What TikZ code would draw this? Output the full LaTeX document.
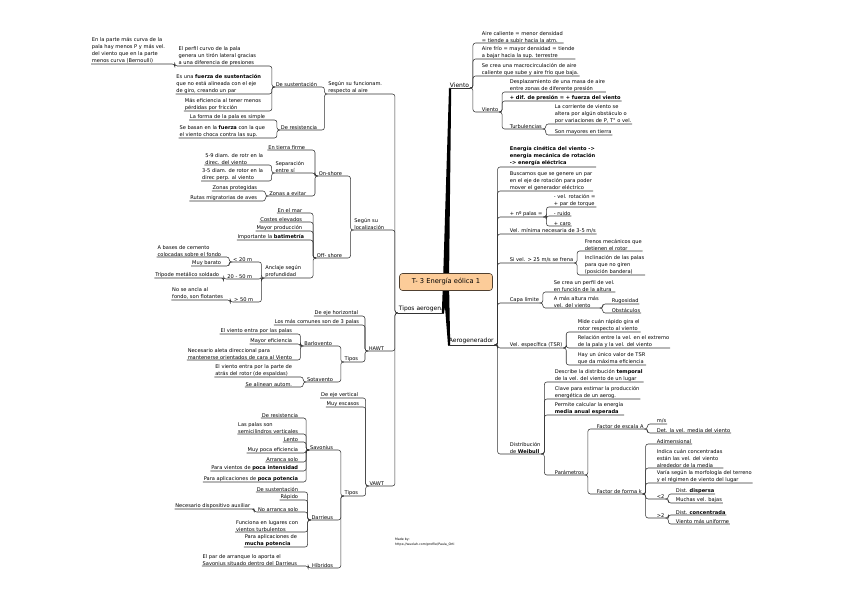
\documentclass[tikz,border=0pt]{standalone}
\usepackage{fontspec}
\setmainfont{DejaVu Sans}
\usetikzlibrary{positioning,backgrounds}
\definecolor{rootfill}{RGB}{252,204,153}
\definecolor{rootline}{RGB}{80,64,48}
\newcommand\mapfont{\fontsize{5.1}{7}\selectfont}
\newcommand\branchfont{\fontsize{6}{8}\selectfont}

\begin{document}
\begin{tikzpicture}[
  x=1pt, y=-1pt,
  leaf/.style={inner sep=0.7pt, align=left, font=\mapfont},
  lleaf/.style={leaf, anchor=south east},
  rleaf/.style={leaf, anchor=south west},
  mainbr/.style={inner sep=0.7pt, font=\branchfont},
  root/.style={draw=rootline, fill=rootfill, rounded corners=3pt, line width=0.6pt,
               minimum width=93pt, minimum height=17pt, font=\fontsize{6.7}{9}\selectfont},
  conn/.style={draw=black!80, line width=0.55pt, rounded corners=2.5pt},
  footer/.style={inner sep=0pt, align=left, anchor=north west, font=\fontsize{3.2}{4.6}\selectfont},
]
\useasboundingbox (0,0) rectangle (848,599);

% ---- central topic and main branches ----
\node[root] (root) at (446,282) {T- 3 Energía eólica 1};
\node[mainbr, anchor=south west] (vien) at (449,88) {Viento};
\node[mainbr, anchor=south west] (aero) at (448,345) {Aerogenerador};
\node[mainbr, anchor=south east] (tipo) at (444,313) {Tipos aerogen.};

% ---- tipos: funcionamiento ----
\node[lleaf] (func) at (383,94) {Según su funcionam.\\respecto al aire};
\node[lleaf] (dsus) at (318,87) {De sustentación};
\node[lleaf] (perf) at (257,66) {El perfil curvo de la pala\\genera un tirón lateral gracias\\a una diferencia de presiones};
\node[lleaf] (bern) at (166,64) {En la parte más curva de la\\pala hay menos P y más vel.\\del viento que en la parte\\menos curva (Bernoulli)};
\node[lleaf] (fsus) at (262,94) {Es una \textbf{fuerza de sustentación}\\que no está alineada con el eje\\de giro, creando un par};
\node[lleaf] (mefi) at (262,111) {Más eficiencia al tener menos\\pérdidas por fricción};
\node[lleaf] (dres) at (318,130) {De resistencia};
\node[lleaf] (fsim) at (266,120) {La forma de la pala es simple};
\node[lleaf] (fcho) at (266,138) {Se basan en la \textbf{fuerza} con la que\\el viento choca contra las sup.};

% ---- tipos: localizacion ----
\node[lleaf] (loca) at (385,230) {Según su\\localización};
\node[lleaf] (onsh) at (343,176) {On-shore};
\node[lleaf] (tier) at (306,150) {En tierra firme};
\node[lleaf] (sepa) at (305,173) {Separación\\entre sí};
\node[lleaf] (d59) at (264,165) {5-9 diam. de rotr en la\\direc. del viento};
\node[lleaf] (d35) at (264,181) {3-5 diam. de rotor en la\\direc perp. al viento};
\node[lleaf] (zevi) at (307,196) {Zonas a evitar};
\node[lleaf] (zpro) at (258,191) {Zonas protegidas};
\node[lleaf] (rmig) at (258,201) {Rutas migratorias de aves};
\node[lleaf] (offs) at (343,258) {Off- shore};
\node[lleaf] (emar) at (303,213) {En el mar};
\node[lleaf] (cost) at (303,222) {Costes elevados};
\node[lleaf] (mpro) at (303,231) {Mayor producción};
\node[lleaf] (bati) at (305,240) {Importante la \textbf{batimetría}};
\node[lleaf] (ancl) at (302,278) {Anclaje según\\profundidad};
\node[lleaf] (m20) at (253,262) {< 20 m};
\node[lleaf] (m2050) at (253,279) {20 - 50 m};
\node[lleaf] (m50) at (254,302) {> 50 m};
\node[lleaf] (cem) at (222,257) {A bases de cemento\\colocadas sobre el fondo};
\node[lleaf] (bara) at (222,266) {Muy barato};
\node[lleaf] (trip) at (220,278) {Trípode metálico soldado};
\node[lleaf] (flot) at (224,300) {No se ancla al\\fondo, son flotantes};

% ---- tipos: HAWT ----
\node[lleaf] (hawt) at (385,351) {HAWT};
\node[lleaf] (ehor) at (359,316) {De eje horizontal};
\node[lleaf] (comu) at (360,325) {Los más comunes son de 3 palas};
\node[lleaf] (htip) at (359,362) {Tipos};
\node[lleaf] (barl) at (333,346) {Barlovento};
\node[lleaf] (bpal) at (293,334) {El viento entra por las palas};
\node[lleaf] (befi) at (293,344) {Mayor eficiencia};
\node[lleaf] (bale) at (293,360) {Necesario aleta direccional para\\mantenerse orientados de cara al Viento};
\node[lleaf] (sota) at (334,382) {Sotavento};
\node[lleaf] (spar) at (293,377) {El viento entra por la parte de\\atrás del rotor (de espaldas)};
\node[lleaf] (sali) at (293,387) {Se alinean autom.};

% ---- tipos: VAWT ----
\node[lleaf] (vawt) at (385,486) {VAWT};
\node[lleaf] (ever) at (359,398) {De eje vertical};
\node[lleaf] (esca) at (360,407) {Muy escasos};
\node[lleaf] (vtip) at (359,496) {Tipos};
\node[lleaf] (savo) at (334,450) {Savonius};
\node[lleaf] (sres) at (299,418) {De resistencia};
\node[lleaf] (ssem) at (299,434) {Las palas son\\semicilindros verticales};
\node[lleaf] (slen) at (299,442) {Lento};
\node[lleaf] (sefi) at (299,453) {Muy poca eficiencia};
\node[lleaf] (sarr) at (299,462) {Arranca solo};
\node[lleaf] (sint) at (299,471) {Para vientos de \textbf{poca intensidad}};
\node[lleaf] (spot) at (299,482) {Para aplicaciones de \textbf{poca potencia}};
\node[lleaf] (darr) at (334,520) {Darrieus};
\node[lleaf] (dsust) at (299,492) {De sustentación};
\node[lleaf] (drap) at (299,500) {Rápido};
\node[lleaf] (dnar) at (299,512) {No arranca solo};
\node[lleaf] (daux) at (251,509) {Necesario dispositivo auxiliar};
\node[lleaf] (dtur) at (299,532) {Funciona en lugares con\\vientos turbulentos};
\node[lleaf] (dpot) at (298,547) {Para aplicaciones de\\\textbf{mucha potencia}};
\node[lleaf] (hibr) at (334,568) {Híbridos};
\node[lleaf] (hpar) at (298,566) {El par de arranque lo aporta el\\Savonius situado dentro del Darrieus};

% ---- viento ----
\node[rleaf] (acal) at (481,43) {Aire caliente = menor densidad\\= tiende a subir hacia la atm.};
\node[rleaf] (afri) at (481,59) {Aire frío = mayor densidad = tiende\\a bajar hacia la sup. terrestre};
\node[rleaf] (macr) at (481,76) {Se crea una macrocirculación de aire\\caliente que sube y aire frío que baja.};
\node[rleaf] (vsub) at (481,112) {Viento};
\node[rleaf] (desp) at (509,92) {Desplazamiento de una masa de aire\\entre zonas de diferente presión};
\node[rleaf] (dpre) at (509,101) {\textbf{+ dif. de presión = + fuerza del viento}};
\node[rleaf] (turb) at (509,129) {Turbulencias};
\node[rleaf] (tcor) at (554,124) {La corriente de viento se\\altera por algún obstáculo o\\por variaciones de P, T° o vel.};
\node[rleaf] (tmay) at (554,135) {Son mayores en tierra};

% ---- aerogenerador ----
\node[rleaf] (ecin) at (509,167) {\textbf{Energía cinética del viento ->}\\\textbf{energía mecánica de rotación}\\\textbf{-> energía eléctrica}};
\node[rleaf] (par) at (509,191) {Buscamos que se genere un par\\en el eje de rotación para poder\\mover el generador eléctrico};
\node[rleaf] (npal) at (509,217) {+ nº palas =};
\node[rleaf] (vrot) at (553,207) {- vel. rotación =\\+ par de torque};
\node[rleaf] (ruid) at (553,216) {- ruido};
\node[rleaf] (caro) at (553,226) {+ caro};
\node[rleaf] (vmin) at (509,234) {Vel. mínima necesaria de 3-5 m/s};
\node[rleaf] (fren) at (509,263) {Si vel. > 25 m/s se frena};
\node[rleaf] (fmec) at (584,251) {Frenos mecánicos que\\detienen el rotor};
\node[rleaf] (fban) at (584,275) {Inclinación de las palas\\para que no giren\\(posición bandera)};
\node[rleaf] (clim) at (509,303) {Capa límite};
\node[rleaf] (cper) at (553,292) {Se crea un perfil de vel.\\en función de la altura};
\node[rleaf] (calt) at (553,308) {A más altura más\\vel. del viento};
\node[rleaf] (rugo) at (611,304) {Rugosidad};
\node[rleaf] (obst) at (611,313) {Obstáculos};
\node[rleaf] (tsr) at (509,348) {Vel. específica (TSR)};
\node[rleaf] (tmid) at (577,332) {Mide cuán rápido gira el\\rotor respecto al viento};
\node[rleaf] (trel) at (577,348) {Relación entre la vel. en el extremo\\de la pala y la vel. del viento};
\node[rleaf] (tmax) at (577,365) {Hay un único valor de TSR\\que da máxima eficiencia};
\node[rleaf] (weib) at (509,454) {Distribución\\de \textbf{Weibull}};
\node[rleaf] (wdes) at (554,382) {Describe la distribución \textbf{temporal}\\de la vel. del viento de un lugar};
\node[rleaf] (wcla) at (554,399) {Clave para estimar la producción\\energética de un aerog.};
\node[rleaf] (wene) at (554,415) {Permite calcular la energía\\\textbf{media anual esperada}};
\node[rleaf] (wpar) at (554,475) {Parámetros};
\node[rleaf] (fesc) at (596,429) {Factor de escala A};
\node[rleaf] (ffor) at (596,494) {Factor de forma k};
\node[rleaf] (ms) at (656,424) {m/s};
\node[rleaf] (vmed) at (656,433) {Det. la vel. media del viento};
\node[rleaf] (adim) at (656,444) {Adimensional};
\node[rleaf] (conc) at (656,468) {Indica cuán concentradas\\están las vel. del viento\\alrededor de la media};
\node[rleaf] (morf) at (656,483) {Varía según la morfología del terreno\\y el régimen de viento del lugar};
\node[rleaf] (lt2) at (656,499) {<2};
\node[rleaf] (gt2) at (656,518) {>2};
\node[rleaf] (disp) at (675,494) {Dist. \textbf{dispersa}};
\node[rleaf] (baja) at (675,503) {Muchas vel. bajas};
\node[rleaf] (dcon) at (675,515) {Dist. \textbf{concentrada}};
\node[rleaf] (unif) at (675,524) {Viento más uniforme};

\node[footer] (made) at (395,538) {Made by:\\https://wuolah.com/profile/Paula\_Orti};

% ---- thick branches from the central topic ----
\begin{scope}[on background layer]
  \fill ([xshift=-3pt]root.center) -- ([xshift=3pt]root.center)
        -- ([xshift=2.2pt]vien.south west) -- (vien.south west) -- cycle;
  \fill ([xshift=-3pt]root.center) -- ([xshift=3pt]root.center)
        -- ([xshift=2.2pt]aero.south west) -- (aero.south west) -- cycle;
  \fill ([xshift=-3pt]root.center) -- ([xshift=3pt]root.center)
        -- (tipo.south east) -- ([xshift=-2.2pt]tipo.south east) -- cycle;
\end{scope}
\draw[conn] (vien.south west) -- (vien.south east);
\draw[conn] (aero.south west) -- (aero.south east);
\draw[conn] (tipo.south west) -- (tipo.south east);

% ---- connectors, left side ----
\foreach \p/\cs in {tipo/{func,loca,hawt,vawt}, func/{dsus,dres}, dsus/{perf,fsus,mefi},
    perf/{bern}, dres/{fsim,fcho}, loca/{onsh,offs}, onsh/{tier,sepa,zevi},
    sepa/{d59,d35}, zevi/{zpro,rmig}, offs/{emar,cost,mpro,bati,ancl},
    ancl/{m20,m2050,m50}, m20/{cem,bara}, m2050/{trip}, m50/{flot},
    hawt/{ehor,comu,htip}, htip/{barl,sota}, barl/{bpal,befi,bale}, sota/{spar,sali},
    vawt/{ever,esca,vtip}, vtip/{savo,darr,hibr},
    savo/{sres,ssem,slen,sefi,sarr,sint,spot}, darr/{dsust,drap,dnar,dtur,dpot},
    dnar/{daux}, hibr/{hpar}}
  \foreach \c in \cs
    \draw[conn] (\c.south west) -- (\c.south east)
      -| ([xshift=-3pt]\p.south west) -- (\p.south west);

% ---- connectors, right side ----
\foreach \p/\cs in {vien/{acal,afri,macr,vsub}, vsub/{desp,dpre,turb}, turb/{tcor,tmay},
    aero/{ecin,par,npal,vmin,fren,clim,tsr,weib}, npal/{vrot,ruid,caro},
    fren/{fmec,fban}, clim/{cper,calt}, calt/{rugo,obst}, tsr/{tmid,trel,tmax},
    weib/{wdes,wcla,wene,wpar}, wpar/{fesc,ffor}, fesc/{ms,vmed},
    ffor/{adim,conc,morf,lt2,gt2}, lt2/{disp,baja}, gt2/{dcon,unif}}
  \foreach \c in \cs
    \draw[conn] (\p.south east) -- ([xshift=3pt]\p.south east)
      |- (\c.south west) -- (\c.south east);

\end{tikzpicture}
\end{document}
